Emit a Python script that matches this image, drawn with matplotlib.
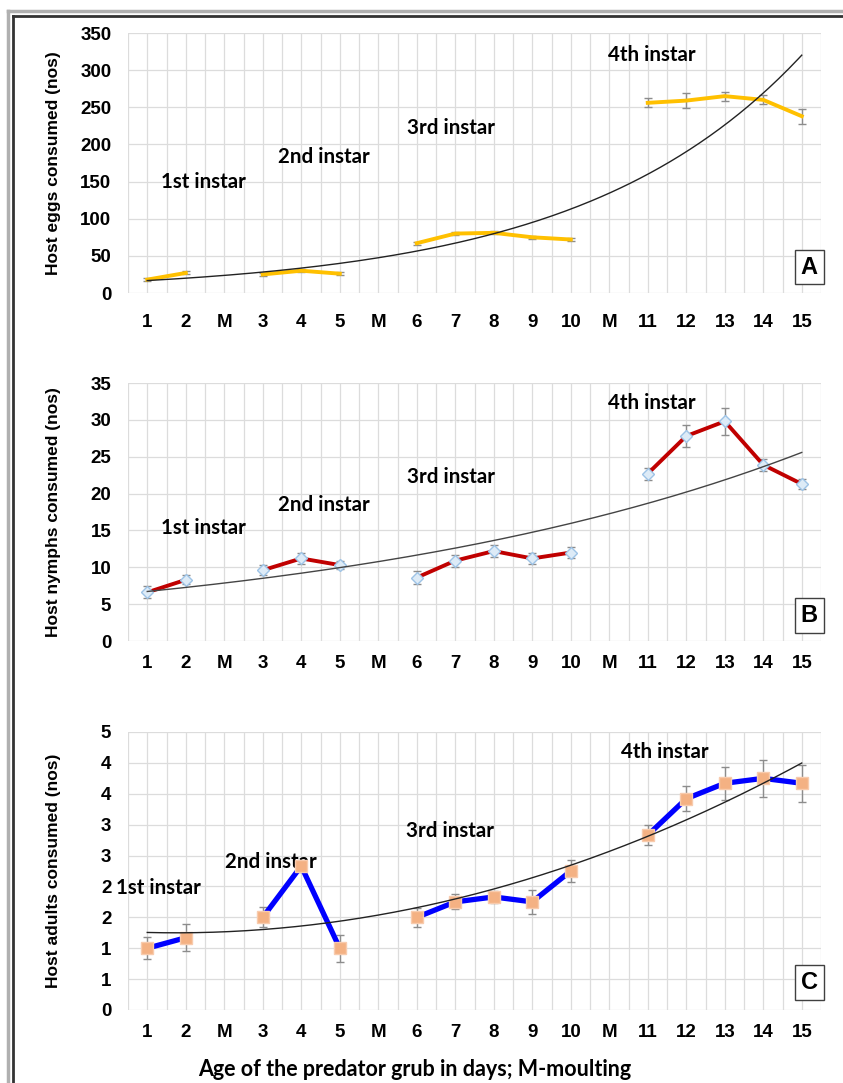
import numpy as np
import matplotlib
matplotlib.use("Agg")
import matplotlib.pyplot as plt
from matplotlib.lines import Line2D

# category axis: days of the grub with moulting gaps
days = ['1', '2', 'M', '3', '4', '5', 'M', '6', '7', '8', '9', '10', 'M', '11', '12', '13', '14', '15']
nan = np.nan

# A - host eggs consumed
eggs = [18, 27, nan, 25, 30, 26, nan, 67, 80, 81, 75, 72, nan, 256, 259, 265, 260, 238]
eggs_err = [2, 2, nan, 2, 2, 2, nan, 2, 2, 2, 2, 2, nan, 6, 10, 6, 6, 10]

# B - host nymphs consumed
nymphs = [6.6, 8.3, nan, 9.6, 11.2, 10.3, nan, 8.6, 10.9, 12.2, 11.2, 12.0, nan, 22.7, 27.8, 29.8, 23.9, 21.3]
nymphs_err = [0.8, 0.6, nan, 0.7, 0.8, 0.6, nan, 0.9, 0.8, 0.8, 0.7, 0.8, nan, 0.8, 1.5, 1.8, 0.8, 0.7]

# C - host adults consumed
adults = [1.0, 1.17, nan, 1.5, 2.33, 1.0, nan, 1.5, 1.75, 1.83, 1.75, 2.25, nan, 2.83, 3.42, 3.67, 3.75, 3.67]
adults_err = [0.18, 0.22, nan, 0.16, 0.1, 0.22, nan, 0.15, 0.12, 0.1, 0.2, 0.18, nan, 0.16, 0.2, 0.27, 0.3, 0.3]

instars = ['1st instar', '2nd instar', '3rd instar', '4th instar']

x = np.arange(len(days))
calibri_like = ['Lato', 'DejaVu Sans']

fig = plt.figure(figsize=(8.43, 10.83), dpi=100)
W, H = 843.0, 1083.0


def add_panel(top, bottom):
    return fig.add_axes([128 / W, 1 - bottom / H, 693 / W, (bottom - top) / H])


def trend(vals, kind):
    v = np.array(vals, dtype=float)
    ok = ~np.isnan(v)
    xx = x + 1.0
    xs = np.linspace(xx[0], xx[-1], 200)
    if kind == 'exp':
        b, a = np.polyfit(xx[ok], np.log(v[ok]), 1)
        ys = np.exp(a) * np.exp(b * xs)
    else:
        c = np.polyfit(xx[ok], v[ok], 2)
        ys = np.polyval(c, xs)
    return xs - 1, ys


def style(ax, ymax, step, ylabel, letter, xpad, ticklabels=None):
    ax.set_xlim(-0.5, len(days) - 0.5)
    ax.set_ylim(0, ymax)
    yt = np.arange(0, ymax + step / 2, step)
    ax.set_yticks(yt)
    if ticklabels is not None:
        ax.set_yticklabels(ticklabels)
    ax.set_xticks(x)
    ax.set_xticklabels(days)
    ax.set_xticks(np.arange(-0.5, len(days), 1.0), minor=True)
    ax.grid(True, which='both', axis='x', color='#dcdcdc', lw=0.9)
    ax.grid(True, which='major', axis='y', color='#dcdcdc', lw=0.9)
    ax.set_axisbelow(True)
    for s in ax.spines.values():
        s.set_visible(False)
    ax.tick_params(axis='both', which='both', length=0, labelsize=13.5)
    ax.tick_params(axis='y', pad=12)
    ax.tick_params(axis='x', pad=xpad)
    for lab in ax.get_xticklabels() + ax.get_yticklabels():
        lab.set_fontweight('bold')
        lab.set_family('Liberation Sans')
    ax.set_ylabel(ylabel, fontsize=12.5, fontweight='bold', family='Liberation Sans')
    ax.yaxis.set_label_coords(-0.096, 0.5)
    ax.text(0.983, 0.1, letter, transform=ax.transAxes, ha='center', va='center',
            fontsize=17, fontweight='bold', family='Liberation Sans',
            bbox=dict(boxstyle='square,pad=0.25', fc='white', ec='#404040', lw=1))


def instar_labels(ax, pos, first_left=False):
    for i, (name, (px, py)) in enumerate(zip(instars, pos)):
        ha = 'left' if (first_left and i == 0) else 'center'
        ax.text(px, py, name, ha=ha, va='center', fontsize=14.8,
                fontweight='bold', family=calibri_like)


# panel A
ax = add_panel(33, 293)
style(ax, 350, 50, 'Host eggs consumed (nos)', 'A', xpad=15)
ax.errorbar(x, eggs, yerr=eggs_err, color='#FFC000', lw=2.8, ecolor='#8c8c8c',
            elinewidth=1, capsize=3, zorder=3)
tx, ty = trend(eggs, 'exp')
ax.plot(tx, ty, color='#222222', lw=1, zorder=4)
instar_labels(ax, [(1.45, 149), (4.6, 183), (7.9, 222), (13.1, 320)])

# panel B
ax = add_panel(383, 641)
style(ax, 35, 5, 'Host nymphs consumed (nos)', 'B', xpad=10)
ax.errorbar(x, nymphs, yerr=nymphs_err, color='#C00000', lw=2.8, ecolor='#8c8c8c',
            elinewidth=1, capsize=3, marker='D', ms=6.5, mfc='#DDEBF7', mec='#9DC3E6',
            mew=1, zorder=3)
tx, ty = trend(nymphs, 'exp')
ax.plot(tx, ty, color='#444444', lw=1, zorder=4)
instar_labels(ax, [(1.45, 15.3), (4.6, 18.4), (7.9, 22.2), (13.1, 32.3)])

# panel C
ax = add_panel(732, 1010)
style(ax, 4.5, 0.5, 'Host adults consumed (nos)', 'C', xpad=10,
      ticklabels=['0', '1', '1', '2', '2', '3', '3', '4', '4', '5'])
ax.errorbar(x, adults, yerr=adults_err, color='#0000FF', lw=3.8, ecolor='#8c8c8c',
            elinewidth=1, capsize=3, marker='s', ms=9, mfc='#F4B183', mec='#F8CBAD',
            mew=1, zorder=3)
tx, ty = trend(adults, 'poly')
ax.plot(tx, ty, color='#222222', lw=1, zorder=4)
instar_labels(ax, [(-0.8, 1.97), (3.2, 2.39), (7.87, 2.9), (13.45, 4.17)], first_left=True)
ax.set_xlabel('Age of the predator grub in days; M-moulting', fontsize=15.5,
              fontweight='bold', family=calibri_like)
ax.xaxis.set_label_coords(0.414, -0.175)

# outer double frame
fig.add_artist(Line2D([8 / W, 8 / W], [0, 1 - 11 / H], color='#b0b0b0', lw=2.5, transform=fig.transFigure))
fig.add_artist(Line2D([8 / W, 1], [1 - 11 / H, 1 - 11 / H], color='#b0b0b0', lw=2.5, transform=fig.transFigure))
fig.add_artist(Line2D([12.5 / W, 12.5 / W], [0, 1 - 15.5 / H], color='#333333', lw=2, transform=fig.transFigure))
fig.add_artist(Line2D([12.5 / W, 1], [1 - 15.5 / H, 1 - 15.5 / H], color='#333333', lw=2, transform=fig.transFigure))

fig.savefig('out.png', dpi=100, facecolor='white')
